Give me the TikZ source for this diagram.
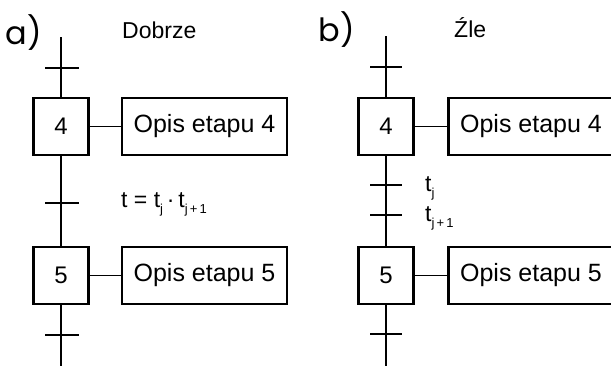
\documentclass[tikz,border=0pt]{standalone}
\usepackage{fontspec}
\setmainfont{Liberation Sans}
\newfontfamily\labelfont{Poppins}
\newcommand{\lowsub}[1]{\raisebox{-6pt}{\fontsize{13}{13}\selectfont #1}}
\begin{document}
\begin{tikzpicture}[x=1pt,y=-1pt,
  stepbox/.style={draw,line width=2.4pt,minimum width=55pt,minimum height=57pt,inner sep=0pt,font=\fontsize{24}{26}\selectfont},
  descbox/.style={draw,line width=2.4pt,minimum width=165pt,minimum height=57pt,inner sep=0pt,font=\fontsize{25}{27}\selectfont},
  flow/.style={line width=1.8pt},
  tick/.style={line width=1.8pt},
  txt/.style={inner sep=0pt,font=\fontsize{23}{25}\selectfont},
  panel/.style={inner sep=0pt,font=\labelfont\fontsize{32}{34}\selectfont}]
\useasboundingbox (0,0) rectangle (611,365);
\clip (0,0) rectangle (611,365);

% ---- a) correct variant
\node[panel] (la) at (24,33) {a)};
\node[txt,anchor=west] (ta) at (122,30) {Dobrze};
\node[stepbox] (a4) at (61,126.5) {4};
\node[stepbox] (a5) at (61,275.5) {5};
\node[descbox] (da4) at (204.5,126.5) {Opis etapu 4};
\node[descbox] (da5) at (204.5,275.5) {Opis etapu 5};
\coordinate (atop) at (61,37);
\coordinate (abot) at (61,366);
\draw[flow] (atop) -- (a4.north);
\draw[flow] (a4.south) -- (a5.north);
\draw[flow] (a5.south) -- (abot);
\draw[flow] (a4.east) -- (da4.west);
\draw[flow] (a5.east) -- (da5.west);
\foreach \y in {68,203,335} \draw[tick] (45,\y) -- (79,\y);
\node[txt,anchor=base west] (ea) at (121,207) {t = t\lowsub{j}\,·\,t\lowsub{j\,+\,1}};

% ---- b) wrong variant
\node[panel] (lb) at (337,30) {b)};
\node[txt,anchor=west] (tb) at (454,28) {Źle};
\node[stepbox] (b4) at (386,126.5) {4};
\node[stepbox] (b5) at (386,275.5) {5};
\node[descbox] (db4) at (531,126.5) {Opis etapu 4};
\node[descbox] (db5) at (531,275.5) {Opis etapu 5};
\coordinate (btop) at (386,36);
\coordinate (bbot) at (386,366);
\draw[flow] (btop) -- (b4.north);
\draw[flow] (b4.south) -- (b5.north);
\draw[flow] (b5.south) -- (bbot);
\draw[flow] (b4.east) -- (db4.west);
\draw[flow] (b5.east) -- (db5.west);
\foreach \y in {67,185,215,334} \draw[tick] (370,\y) -- (402,\y);
\node[txt,anchor=base west] (c1) at (425,191) {t\lowsub{j}};
\node[txt,anchor=base west] (c2) at (425,221) {t\lowsub{j\,+\,1}};
\end{tikzpicture}
\end{document}
